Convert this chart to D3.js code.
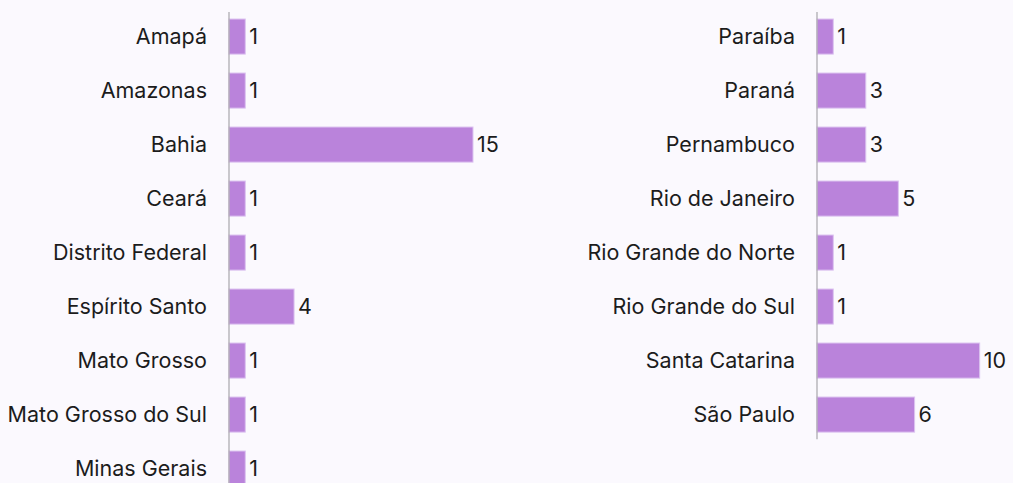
<!DOCTYPE html>
<html>
<head>
<meta charset="utf-8">
<script src="https://cdn.jsdelivr.net/npm/d3@7"></script>
<style>
  html, body { margin: 0; padding: 0; background: #fbf9fe; overflow: hidden; }
  svg { display: block; }
  .label { font-family: Inter, "Noto Sans", sans-serif; font-size: 21.5px; fill: #1c1c1c; }
</style>
</head>
<body>
<div id="chart"></div>
<script>
// data
let leftStates = ["Amapá", "Amazonas", "Bahia", "Ceará", "Distrito Federal",
  "Espírito Santo", "Mato Grosso", "Mato Grosso do Sul", "Minas Gerais"];
let leftValues = [1, 1, 15, 1, 1, 4, 1, 1, 1];

let rightStates = ["Paraíba", "Paraná", "Pernambuco", "Rio de Janeiro",
  "Rio Grande do Norte", "Rio Grande do Sul", "Santa Catarina", "São Paulo"];
let rightValues = [1, 3, 3, 5, 1, 1, 10, 6];

let width = 1013, height = 483;

let svg = d3.select("#chart")
  .append("svg")
  .attr("width", width)
  .attr("height", height);

// shared scale for both panels
let xScale = d3.scaleLinear()
  .domain([0, 15])
  .range([0, 244]);

let step = 54;
let padInner = 0.35, padOuter = 0.13;
let topY = 12;

function panel(states, values, axisX) {
  let n = states.length;
  let yScale = d3.scaleBand()
    .domain(states)
    .range([topY, topY + step * (n - padInner + 2 * padOuter)])
    .paddingInner(padInner)
    .paddingOuter(padOuter);

  let g = svg.append("g")
    .attr("transform", "translate(" + axisX + ",0)");

  let rows = states.map((s, i) => ({ state: s, value: values[i] }));

  g.selectAll("rect")
    .data(rows)
    .join("rect")
    .attr("x", 0)
    .attr("y", d => yScale(d.state))
    .attr("width", d => xScale(d.value))
    .attr("height", yScale.bandwidth())
    .attr("fill", "#ba83db")
    .attr("stroke", "#dcc3f0")
    .attr("stroke-width", 1);

  // category labels
  g.selectAll(".cat")
    .data(rows)
    .join("text")
    .attr("class", "label cat")
    .attr("x", -22)
    .attr("y", d => yScale(d.state) + yScale.bandwidth() / 2)
    .attr("dy", "0.36em")
    .attr("text-anchor", "end")
    .text(d => d.state);

  // value labels
  g.selectAll(".val")
    .data(rows)
    .join("text")
    .attr("class", "label val")
    .attr("x", d => xScale(d.value) + 4)
    .attr("y", d => yScale(d.state) + yScale.bandwidth() / 2)
    .attr("dy", "0.36em")
    .text(d => d.value);

  // axis line
  let r = yScale.range();
  g.append("line")
    .attr("x1", 0).attr("x2", 0)
    .attr("y1", r[0]).attr("y2", r[1])
    .attr("stroke", "#a8a6ab")
    .attr("stroke-width", 1.2);
}

panel(leftStates, leftValues, 229);
panel(rightStates, rightValues, 817);
</script>
</body>
</html>
